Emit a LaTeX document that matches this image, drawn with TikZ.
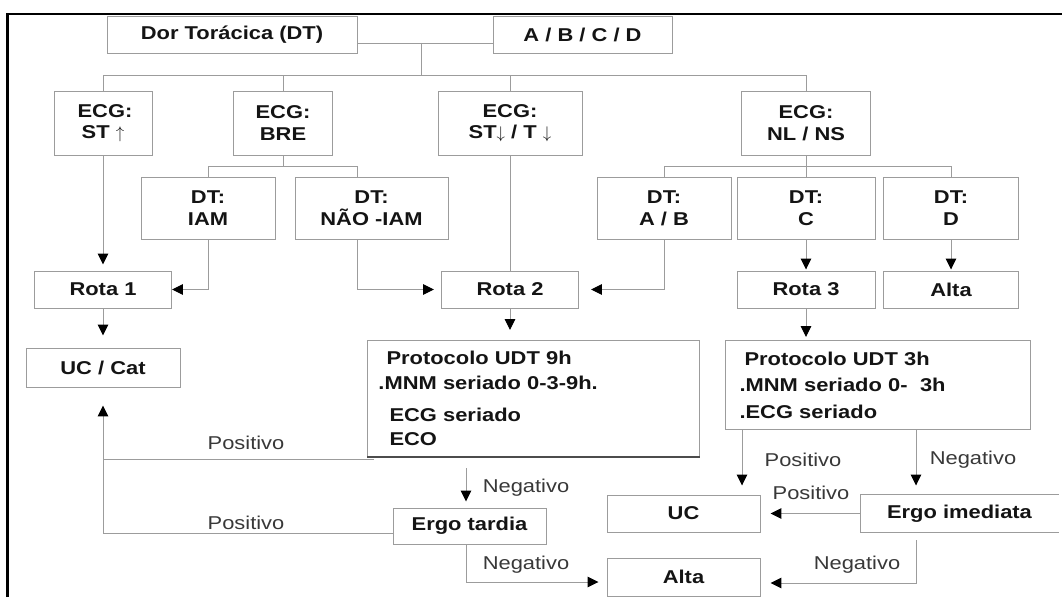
\documentclass[tikz,border=0pt]{standalone}
\usepackage{fontspec}
\setmainfont{Liberation Sans}[FakeStretch=1.18]
\usepackage{xcolor}
\usetikzlibrary{arrows.meta,positioning,calc}
\newcommand{\pu}{0.025cm}
\newcommand{\dsize}{\fontsize{13.2pt}{15.4pt}\selectfont}
\definecolor{linegray}{HTML}{9C9C9C}
\definecolor{txtgray}{HTML}{383838}
\tikzset{
    block/.style={
        rectangle,
        draw=linegray,
        line width=0.7pt,
        align=center,
        inner sep=0pt,
        font=\dsize\bfseries,
        text=black!92
    },
    link/.style={draw=linegray, line width=0.7pt},
    arrow/.style={link, -{Triangle[width=0.26cm,length=0.27cm,color=black]}},
    lbl/.style={font=\dsize, text=txtgray, inner sep=0pt}
}
\begin{document}
\begin{tikzpicture}[x=\pu, y=-\pu]
\useasboundingbox (0,0) rectangle (1062,597);
% frame
\draw[line width=1.6pt] (7.6,597) -- (7.6,14) -- (1062,14);

% top
\node[block, minimum width=250*\pu, minimum height=37*\pu] (dt) at (232,34.5) {Dor Torácica (DT)};
\node[block, minimum width=179*\pu, minimum height=37*\pu] (abcd) at (582.5,34.5) {A / B / C / D};

% ECG row
\node[block, minimum width=98*\pu, minimum height=64*\pu] (e1) at (103,123) {\hspace*{0.1cm}ECG:\\ST $\uparrow$};
\node[block, minimum width=99*\pu, minimum height=64*\pu] (e2) at (283,123) {ECG:\\BRE};
\node[block, minimum width=144*\pu, minimum height=64*\pu] (e3) at (510,123) {ECG:\\ST$\downarrow$ / T $\downarrow$};
\node[block, minimum width=129*\pu, minimum height=64*\pu] (e4) at (806,123) {ECG:\\NL / NS};

\coordinate (split) at (421,43);
\coordinate (bus) at (421,75);
\draw[link] (dt.east |- split) -- (abcd.west |- split);
\draw[link] (split) -- (bus);
\draw[link] (e1.north |- bus) -- (e4.north |- bus);
\foreach \n in {e1,e2,e3,e4}
    \draw[link] (\n.north) -- (\n.north |- bus);

% DT row
\node[block, minimum width=134*\pu, minimum height=62*\pu] (d1) at (208,208) {DT:\\IAM};
\node[block, minimum width=153*\pu, minimum height=62*\pu] (d2) at (371.5,208) {DT:\\NÃO -IAM};
\node[block, minimum width=134*\pu, minimum height=62*\pu] (d3) at (664,208) {DT:\\A / B};
\node[block, minimum width=138*\pu, minimum height=62*\pu] (d4) at (806,208) {DT:\\C};
\node[block, minimum width=135*\pu, minimum height=62*\pu] (d5) at (951,208) {DT:\\D};

\coordinate (d2c) at (357,208);
\coordinate (bus1) at (283,166);
\coordinate (bus2) at (806,166);
\draw[link] (e2.south) -- (bus1);
\draw[link] (d1.north |- bus1) -- (d2c |- bus1);
\draw[link] (d1.north) -- (d1.north |- bus1);
\draw[link] (d2c |- d2.north) -- (d2c |- bus1);
\draw[link] (e4.south) -- (d4.north);
\draw[link] (d3.north |- bus2) -- (d5.north |- bus2);
\foreach \n in {d3,d5}
    \draw[link] (\n.north) -- (\n.north |- bus2);

% rotas
\node[block, minimum width=137*\pu, minimum height=37*\pu] (r1) at (103,289.5) {Rota 1};
\node[block, minimum width=137*\pu, minimum height=37*\pu] (r2) at (510,289.5) {Rota 2};
\node[block, minimum width=138*\pu, minimum height=37*\pu] (r3) at (806,289.5) {Rota 3};
\node[block, minimum width=135*\pu, minimum height=37*\pu] (alta1) at (951,289.5) {Alta};

\draw[arrow, shorten >=6*\pu] (e1.south) -- (r1.north);
\draw[arrow] (d1.south) |- (r1.east);
\draw[arrow, shorten >=7*\pu] (d2c |- d2.south) |- (r2.west);
\draw[link] (e3.south) -- (r2.north);
\draw[arrow, shorten >=12*\pu] (d3.south) |- (r2.east);
\draw[arrow, shorten >=1*\pu] (d4.south) -- (r3.north);
\draw[arrow, shorten >=1*\pu] (d5.south) -- (alta1.north);

% protocolos
\node[block, minimum width=154*\pu, minimum height=39*\pu] (uccat) at (103,367.5) {UC / Cat};
\node[block, anchor=north west, minimum width=332*\pu, minimum height=116*\pu,
      align=left, text width=310*\pu, inner xsep=11*\pu,
      font=\fontsize{13.2pt}{17.7pt}\selectfont\bfseries] (p9) at (367,340)
      {\hspace*{0.2cm}Protocolo UDT 9h\\.MNM seriado 0-3-9h.\\[0.175cm]\hspace*{0.275cm}ECG seriado\\\hspace*{0.275cm}ECO};
\draw[black!70, line width=0.9pt] (p9.south west) -- (p9.south east);
\node[block, anchor=north west, minimum width=305*\pu, minimum height=89*\pu,
      align=left, text width=277*\pu, inner xsep=14*\pu,
      font=\fontsize{13.2pt}{18.8pt}\selectfont\bfseries] (p3) at (725,340)
      {\hspace*{0.125cm}Protocolo UDT 3h\\.MNM seriado 0-~~3h\\.ECG seriado};

\draw[arrow, shorten >=12*\pu] (r1.south) -- (uccat.north);
\draw[arrow, shorten >=10*\pu] (r2.south) -- (r2.south |- p9.north);
\draw[arrow, shorten >=3*\pu] (r3.south) -- (r3.south |- p3.north);

% results
\node[block, minimum width=153*\pu, minimum height=37*\pu] (uc) at (683.5,513.5) {UC};
\node[block, draw=none, minimum width=197*\pu, minimum height=37*\pu] (ei) at (959.5,513.5) {Ergo imediata};
\draw[link] (ei.north east) -- (ei.north west) -- (ei.south west) -- (ei.south east);
\node[block, minimum width=153*\pu, minimum height=36*\pu] (et) at (469.5,526) {Ergo tardia};
\node[block, minimum width=153*\pu, minimum height=38*\pu] (alta2) at (683.5,577) {Alta};

\coordinate (pos3) at (742,429);
\coordinate (neg3) at (916,429);
\coordinate (eib) at (916,540);
\coordinate (neg9) at (466,468);
\coordinate (pos9) at (374,459);
\draw[arrow, shorten >=9*\pu] (pos3 |- p3.south) -- (pos3 |- uc.north);
\draw[arrow, shorten >=9*\pu] (neg3 |- p3.south) -- (neg3 |- ei.north);
\draw[arrow, shorten >=10*\pu] (ei.west) -- (uc.east);
\draw[arrow, shorten >=10*\pu] (eib) |- ([yshift=-6*\pu]alta2.east);
\draw[arrow, shorten >=6*\pu] (neg9) -- (neg9 |- et.north);
\draw[arrow, shorten >=8*\pu] (neg9 |- et.south) |- ([yshift=-5*\pu]alta2.west);
\draw[link] (pos9) -- (pos9 -| uccat.south);
\draw[arrow, shorten >=18*\pu] ([yshift=-7*\pu]et.west) -| (uccat.south);

% labels
\node[lbl] (lp1) at (246,443) {Positivo};
\node[lbl] (lp2) at (246,523) {Positivo};
\node[lbl] (ln1) at (526,488) {Negativo};
\node[lbl] (ln2) at (526,565) {Negativo};
\node[lbl] (lp3) at (803,460) {Positivo};
\node[lbl] (ln3) at (973,460) {Negativo};
\node[lbl] (lp4) at (811,493) {Positivo};
\node[lbl] (ln4) at (857,565) {Negativo};
\end{tikzpicture}
\end{document}
